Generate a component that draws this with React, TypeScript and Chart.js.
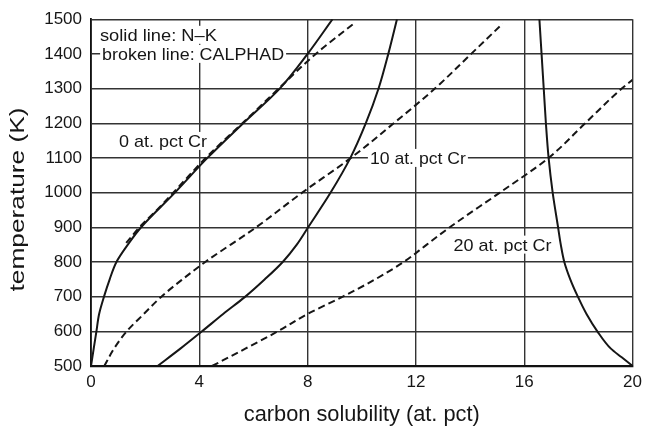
import React, { useEffect, useRef } from "react";
import { Chart, registerables } from "chart.js";

Chart.register(...registerables);

// ---- data (carbon solubility in at. pct vs temperature in K), ordered by temperature ----
const cr0SolidX = [0, 0.1, 0.2, 0.3, 0.48, 0.69, 0.94, 1.36, 1.85, 3.1, 4.3, 5.62, 6.97, 8.0, 8.92];
const cr0SolidT = [500, 550, 600, 650, 700, 750, 800, 850, 900, 1000, 1100, 1200, 1300, 1400, 1500];

const cr0DashX = [1.3, 1.85, 2.5, 3.1, 4.3, 5.66, 7.0, 8.3, 9.7];
const cr0DashT = [855, 905, 955, 1005, 1105, 1205, 1305, 1400, 1487];

const cr10SolidX = [2.46, 3.3, 4.1, 4.88, 5.7, 6.42, 7.08, 7.6, 8.02, 8.85, 9.58, 10.15, 10.62, 10.98, 11.3];
const cr10SolidT = [500, 550, 600, 650, 700, 750, 800, 850, 900, 1000, 1100, 1200, 1300, 1400, 1500];

const cr10DashX = [0.49, 0.85, 1.32, 1.95, 2.6, 3.38, 4.22, 6.1, 7.8, 9.6, 11.18, 12.7, 14.04, 15.2];
const cr10DashT = [500, 550, 600, 650, 700, 750, 800, 900, 1000, 1100, 1200, 1300, 1400, 1487];

const cr20SolidX = [20, 19.6, 19.2, 18.7, 18.3, 17.98, 17.7, 17.48, 17.35, 17.25, 17.05, 16.9, 16.8, 16.72, 16.64, 16.56];
const cr20SolidT = [500, 525, 550, 600, 650, 700, 750, 800, 850, 900, 1000, 1100, 1200, 1300, 1400, 1500];

const cr20DashX = [4.47, 5.7, 6.9, 8.0, 9.3, 10.5, 11.55, 12.4, 13.25, 15.1, 16.9, 18.25, 19.6, 20];
const cr20DashT = [500, 550, 600, 650, 700, 750, 800, 850, 900, 1000, 1100, 1200, 1300, 1325];

const xTickLabels = ["0", "4", "8", "12", "16", "20"];
const xTitle = "carbon solubility (at. pct)";
const yTitle = "temperature (K)";
const noteTexts = ["solid line: N–K", "broken line: CALPHAD", "0 at. pct Cr", "10 at. pct Cr", "20 at. pct Cr"];

const FONT = '"Liberation Sans", Arial, Helvetica, sans-serif';
const INK = "#161616";

const pts = (xs: number[], ts: number[]) => xs.map((x, i) => ({ x, y: ts[i] }));

function stretchText(
  ctx: CanvasRenderingContext2D,
  text: string,
  x: number,
  y: number,
  size: number,
  targetWidth: number,
  align: "left" | "center"
) {
  ctx.font = `${size}px ${FONT}`;
  const w = ctx.measureText(text).width;
  const sx = targetWidth / w;
  ctx.save();
  ctx.translate(x, y);
  ctx.scale(sx, 1);
  ctx.textAlign = "left";
  ctx.textBaseline = "alphabetic";
  ctx.fillText(text, align === "center" ? -w / 2 : 0, 0);
  ctx.restore();
}

// annotation placement (data coords of left edge / vertical centre, target width in px)
const notePlacement = [
  { x: 0.33, t: 1455, w: 117 },
  { x: 0.41, t: 1400, w: 182 },
  { x: 1.03, t: 1149, w: 88 },
  { x: 10.3, t: 1100, w: 96 },
  { x: 13.39, t: 850, w: 98 },
];

const annotatePlugin = {
  id: "annotate",
  beforeDatasetsDraw(chart: any) {
    const { ctx } = chart;
    const xs = chart.scales.x;
    const ys = chart.scales.y;
    const size = 17;
    noteTexts.forEach((txt, i) => {
      const p = notePlacement[i];
      const px = xs.getPixelForValue(p.x);
      const py = ys.getPixelForValue(p.t);
      ctx.save();
      ctx.fillStyle = "#ffffff";
      ctx.fillRect(px - 2, py - 9, p.w + 4, 18);
      ctx.fillStyle = INK;
      stretchText(ctx, txt, px, py + size * 0.358, size, p.w, "left");
      ctx.restore();
    });
  },
  afterDraw(chart: any) {
    const { ctx, chartArea } = chart;
    ctx.save();
    ctx.fillStyle = INK;
    const cx = (chartArea.left + chartArea.right) / 2;
    stretchText(ctx, xTitle, cx, 421, 22, 236, "center");
    ctx.translate(24, 199.5);
    ctx.rotate(-Math.PI / 2);
    stretchText(ctx, yTitle, 0, 0, 20, 184, "center");
    ctx.restore();
  },
};

export default function App() {
  const ref = useRef<HTMLCanvasElement | null>(null);

  useEffect(() => {
    if (!ref.current) return;
    const solid = {
      borderColor: INK,
      borderWidth: 2,
      pointRadius: 0,
      pointHoverRadius: 0,
      cubicInterpolationMode: "monotone",
      fill: false,
    };
    const dashed = { ...solid, borderDash: [7, 4] };
    const chart = new Chart(ref.current, {
      type: "line",
      data: {
        datasets: [
          { label: "0 Cr N-K", data: pts(cr0SolidX, cr0SolidT), ...solid },
          { label: "0 Cr CALPHAD", data: pts(cr0DashX, cr0DashT), ...dashed },
          { label: "10 Cr N-K", data: pts(cr10SolidX, cr10SolidT), ...solid },
          { label: "10 Cr CALPHAD", data: pts(cr10DashX, cr10DashT), ...dashed },
          { label: "20 Cr N-K", data: pts(cr20SolidX, cr20SolidT), ...solid },
          { label: "20 Cr CALPHAD", data: pts(cr20DashX, cr20DashT), ...dashed },
        ] as any,
      },
      options: {
        animation: false,
        responsive: false,
        devicePixelRatio: 1,
        indexAxis: "y",
        layout: { padding: { left: 0, right: 10, top: 16, bottom: 0 } },
        plugins: { legend: { display: false }, tooltip: { enabled: false } },
        scales: {
          x: {
            type: "linear",
            position: "bottom",
            min: 0,
            max: 20,
            afterFit: (s: any) => {
              s.height = 61;
            },
            ticks: {
              stepSize: 4,
              padding: 6,
              color: INK,
              font: { family: FONT, size: 17 },
              callback: (v: any) => {
                const i = Math.round(Number(v) / 4);
                return xTickLabels[i] ?? "";
              },
            },
            grid: { color: "#333", lineWidth: 1.4, drawTicks: false, tickLength: 0 },
            border: { display: true, color: "#111", width: 2.2 },
          },
          y: {
            type: "linear",
            position: "left",
            min: 500,
            max: 1500,
            afterFit: (s: any) => {
              s.width = 91;
            },
            ticks: {
              stepSize: 100,
              padding: 9,
              color: INK,
              font: { family: FONT, size: 17 },
              callback: (v: any) => String(v),
            },
            grid: { color: "#333", lineWidth: 1.4, drawTicks: false, tickLength: 0 },
            border: { display: true, color: "#111", width: 1.8 },
          },
        },
      } as any,
      plugins: [annotatePlugin],
    });
    return () => chart.destroy();
  }, []);

  return (
    <div style={{ position: "absolute", left: 0, top: 0, width: 648, height: 427, background: "#fff" }}>
      <canvas ref={ref} width={648} height={427} style={{ width: 648, height: 427, display: "block" }} />
    </div>
  );
}
